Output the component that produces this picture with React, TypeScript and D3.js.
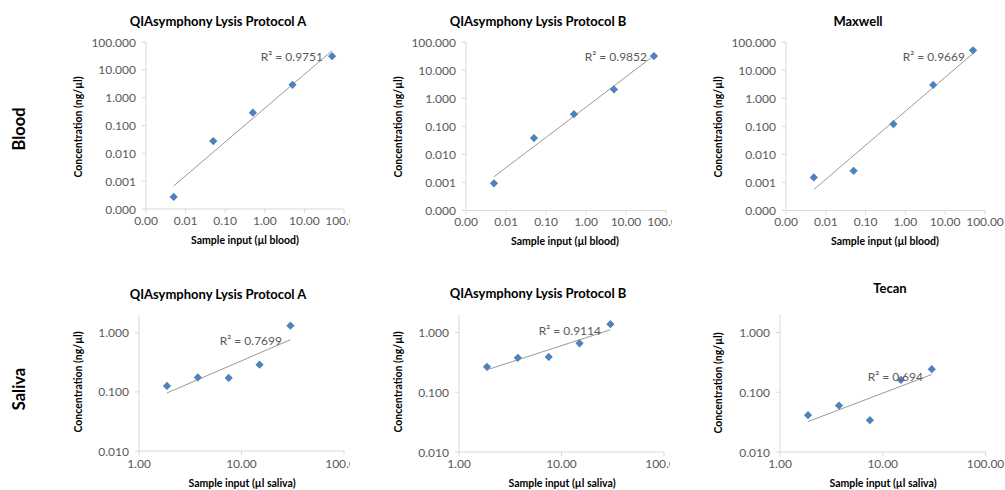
import React from 'react';
import * as d3 from 'd3';

// ---------- data ----------
const bloodInput = [0.005, 0.05, 0.5, 5, 50];
const bloodProtocolA = [0.00027, 0.0275, 0.29, 2.9, 31];
const bloodProtocolB = [0.00093, 0.038, 0.27, 2.04, 31.6];
const bloodMaxwell = [0.0015, 0.0026, 0.12, 2.97, 50.7];

const salivaInput = [1.875, 3.75, 7.5, 15, 30];
const salivaProtocolA = [0.126, 0.176, 0.172, 0.288, 1.32];
const salivaProtocolB = [0.266, 0.376, 0.39, 0.66, 1.38];
const salivaTecan = [0.0413, 0.0598, 0.034, 0.161, 0.243];

const bloodXTicks = [0.001, 0.01, 0.1, 1, 10, 100];
const bloodYTicks = [0.0001, 0.001, 0.01, 0.1, 1, 10, 100];
const salivaXTicks = [1, 10, 100];
const salivaYTicks = [0.01, 0.1, 1];

const titles = [
  'QIAsymphony Lysis Protocol A',
  'QIAsymphony Lysis Protocol B',
  'Maxwell',
  'QIAsymphony Lysis Protocol A',
  'QIAsymphony Lysis Protocol B',
  'Tecan',
];
const r2Labels = ['R² = 0.9751', 'R² = 0.9852', 'R² = 0.9669', 'R² = 0.7699', 'R² = 0.9114', 'R² = 0.694'];
const rowLabels = ['Blood', 'Saliva'];
const yAxisTitle = 'Concentration (ng/µl)';
const xAxisTitles = ['Sample input (µl blood)', 'Sample input (µl saliva)'];

// ---------- layout ----------
type Panel = {
  xs: number[];
  ys: number[];
  xTicks: number[];
  yTicks: number[];
  xDomain: [number, number];
  yDomain: [number, number];
  left: number; right: number; top: number; bottom: number;
  titleX: number; titleY: number;
  r2X: number; r2Y: number;
  yTitleX: number; yTitleY: number;
  xTitleX: number; xTitleY: number;
  xLabelY: number;
  clip: boolean;
  xTitle: string;
};

const FONT = 'Lato, "Noto Sans", sans-serif';
const BLUE = '#4F81BD';
const AXIS = '#d9d9d9';
const TICKTXT = '#595959';

const panels: Panel[] = [
  {
    xs: bloodInput, ys: bloodProtocolA, xTicks: bloodXTicks, yTicks: bloodYTicks,
    xDomain: [0.001, 100], yDomain: [0.0001, 100],
    left: 146, right: 344, top: 42, bottom: 209,
    titleX: 218, titleY: 21, r2X: 323, r2Y: 56,
    yTitleX: 78, yTitleY: 127, xTitleX: 245, xTitleY: 240, xLabelY: 220, clip: true,
    xTitle: xAxisTitles[0],
  },
  {
    xs: bloodInput, ys: bloodProtocolB, xTicks: bloodXTicks, yTicks: bloodYTicks,
    xDomain: [0.001, 100], yDomain: [0.0001, 100],
    left: 466, right: 666, top: 42, bottom: 210.5,
    titleX: 538, titleY: 21, r2X: 647, r2Y: 56,
    yTitleX: 398, yTitleY: 127, xTitleX: 565, xTitleY: 241, xLabelY: 221, clip: true,
    xTitle: xAxisTitles[0],
  },
  {
    xs: bloodInput, ys: bloodMaxwell, xTicks: bloodXTicks, yTicks: bloodYTicks,
    xDomain: [0.001, 100], yDomain: [0.0001, 100],
    left: 786, right: 985, top: 42, bottom: 210.5,
    titleX: 858, titleY: 21, r2X: 965, r2Y: 56,
    yTitleX: 718, yTitleY: 127, xTitleX: 885, xTitleY: 241, xLabelY: 221, clip: false,
    xTitle: xAxisTitles[0],
  },
  {
    xs: salivaInput, ys: salivaProtocolA, xTicks: salivaXTicks, yTicks: salivaYTicks,
    xDomain: [1, 100], yDomain: [0.01, 2],
    left: 139, right: 344, top: 315, bottom: 451,
    titleX: 218, titleY: 294, r2X: 282, r2Y: 340,
    yTitleX: 78, yTitleY: 382, xTitleX: 242, xTitleY: 483, xLabelY: 463, clip: true,
    xTitle: xAxisTitles[1],
  },
  {
    xs: salivaInput, ys: salivaProtocolB, xTicks: salivaXTicks, yTicks: salivaYTicks,
    xDomain: [1, 100], yDomain: [0.01, 2],
    left: 459, right: 664, top: 314.5, bottom: 452,
    titleX: 538, titleY: 293, r2X: 601, r2Y: 330,
    yTitleX: 398, yTitleY: 382, xTitleX: 562, xTitleY: 483, xLabelY: 463.5, clip: true,
    xTitle: xAxisTitles[1],
  },
  {
    xs: salivaInput, ys: salivaTecan, xTicks: salivaXTicks, yTicks: salivaYTicks,
    xDomain: [1, 100], yDomain: [0.01, 2],
    left: 780, right: 985.5, top: 314.5, bottom: 452,
    titleX: 890, titleY: 288, r2X: 923, r2Y: 376,
    yTitleX: 718, yTitleY: 383, xTitleX: 883, xTitleY: 483, xLabelY: 463.5, clip: false,
    xTitle: xAxisTitles[1],
  },
];

function powerFit(xs: number[], ys: number[]) {
  const lx = xs.map(Math.log10);
  const ly = ys.map(Math.log10);
  const mx = d3.mean(lx)!;
  const my = d3.mean(ly)!;
  const sxy = d3.sum(lx, (v, i) => (v - mx) * (ly[i] - my));
  const sxx = d3.sum(lx, (v) => (v - mx) * (v - mx));
  const b = sxy / sxx;
  const a = my - b * mx;
  return (x: number) => Math.pow(10, a + b * Math.log10(x));
}

const diamond = d3.symbol(d3.symbolSquare, 34)()!;

function PanelChart({ p, i }: { p: Panel; i: number }) {
  const x = d3.scaleLog().domain(p.xDomain).range([p.left, p.right]);
  const y = d3.scaleLog().domain(p.yDomain).range([p.bottom, p.top]);
  const f = powerFit(p.xs, p.ys);
  const x0 = d3.min(p.xs)!;
  const x1 = d3.max(p.xs)!;
  const line = d3.line<number>().x((d) => x(d)).y((d) => y(f(d)));
  const clipId = `clip${i}`;
  return (
    <g>
      {p.clip && (
        <clipPath id={clipId}>
          <rect x={p.left - 40} y={0} width={p.right + 6 - (p.left - 40)} height={490} />
        </clipPath>
      )}
      <text x={p.titleX} y={p.titleY} textAnchor="middle" dominantBaseline="central"
        fontFamily={FONT} fontWeight="bold" fontSize={13} fill="#000">{titles[i]}</text>
      {/* axes */}
      <line x1={p.left} x2={p.left} y1={p.top} y2={p.bottom} stroke={AXIS} strokeWidth={1} />
      <line x1={p.left} x2={p.right} y1={p.bottom} y2={p.bottom} stroke={AXIS} strokeWidth={1} />
      {p.yTicks.map((t) => (
        <g key={'y' + t}>
          <line x1={p.left - 4} x2={p.left} y1={y(t)} y2={y(t)} stroke={AXIS} />
          <text x={p.left - 10} y={y(t)} textAnchor="end" dominantBaseline="central"
            fontFamily={FONT} fontSize={12} fill={TICKTXT}>{t.toFixed(3)}</text>
        </g>
      ))}
      <g clipPath={p.clip ? `url(#${clipId})` : undefined}>
        {p.xTicks.map((t) => (
          <g key={'x' + t}>
            <line x1={x(t)} x2={x(t)} y1={p.bottom} y2={p.bottom + 4} stroke={AXIS} />
            <text x={x(t)} y={p.xLabelY} textAnchor="middle" dominantBaseline="central"
              fontFamily={FONT} fontSize={12} fill={TICKTXT}>{t.toFixed(2)}</text>
          </g>
        ))}
      </g>
      <text transform={`translate(${p.yTitleX},${p.yTitleY}) rotate(-90)`} textAnchor="middle"
        dominantBaseline="central" fontFamily={FONT} fontWeight="bold" fontSize={10.5} fill="#000">{yAxisTitle}</text>
      <text x={p.xTitleX} y={p.xTitleY} textAnchor="middle" dominantBaseline="central"
        fontFamily={FONT} fontWeight="bold" fontSize={10.5} fill="#000">{p.xTitle}</text>
      {/* trend line */}
      <path d={line([x0, x1]) || ''} stroke="#7f7f7f" strokeWidth={0.8} fill="none" />
      {/* points */}
      {p.xs.map((xv, k) => (
        <path key={k} d={diamond} transform={`translate(${x(xv)},${y(p.ys[k])}) rotate(45)`} fill={BLUE} />
      ))}
      <text x={p.r2X} y={p.r2Y} textAnchor="end" dominantBaseline="central"
        fontFamily={FONT} fontSize={12} fill={TICKTXT}>{r2Labels[i]}</text>
    </g>
  );
}

export default function App() {
  return (
    <svg width={1005} height={490} style={{ position: 'absolute', left: 0, top: 0, background: '#fff' }}>
      <rect width={1005} height={490} fill="#fff" />
      <text transform="translate(19,129) rotate(-90)" textAnchor="middle" dominantBaseline="central"
        fontFamily={FONT} fontWeight="bold" fontSize={16.5} fill="#000">{rowLabels[0]}</text>
      <text transform="translate(19,389) rotate(-90)" textAnchor="middle" dominantBaseline="central"
        fontFamily={FONT} fontWeight="bold" fontSize={16.5} fill="#000">{rowLabels[1]}</text>
      {panels.map((p, i) => (
        <PanelChart key={i} p={p} i={i} />
      ))}
    </svg>
  );
}
